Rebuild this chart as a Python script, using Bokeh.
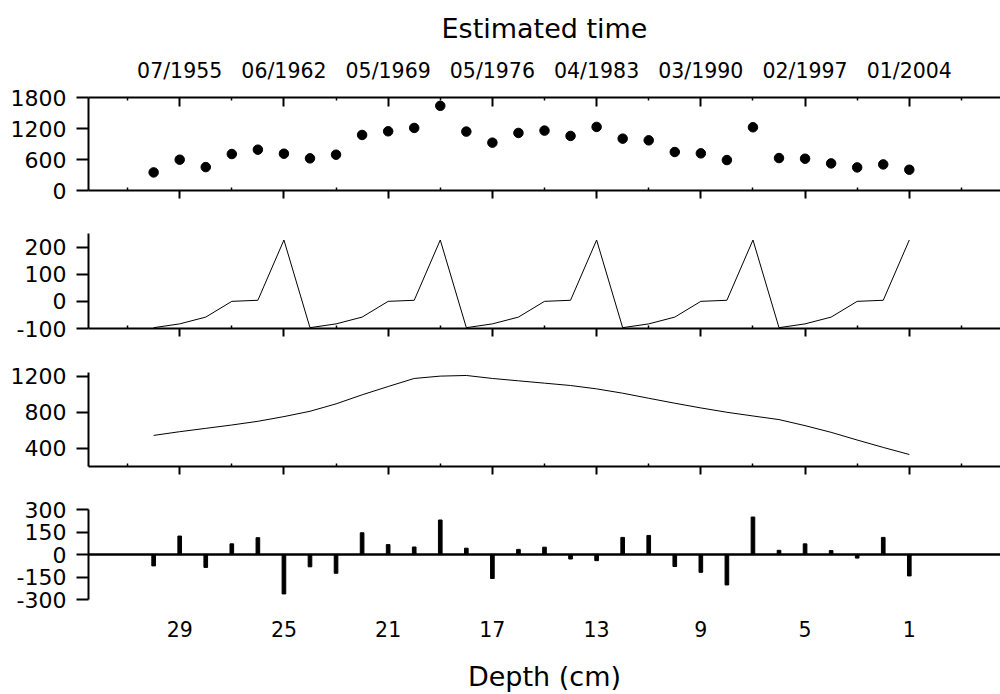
from bokeh.plotting import figure
from bokeh.models import Range1d, FixedTicker, LinearAxis, CustomLabelingPolicy
from bokeh.layouts import column
from bokeh.embed import file_html
from bokeh.resources import INLINE

# ---------------- data ----------------
depth = [30, 29, 28, 27, 26, 25, 24, 23, 22, 21, 20, 19, 18, 17, 16,
         15, 14, 13, 12, 11, 10, 9, 8, 7, 6, 5, 4, 3, 2, 1]
observed = [350, 596, 453, 706, 790, 712, 622, 693, 1075, 1146, 1211, 1639, 1140, 926, 1114,
            1159, 1056, 1231, 1004, 971, 745, 719, 589, 1224, 628, 615, 525, 447, 505, 402]
seasonal = [-97, -83, -58, 0, 4, 226, -97, -83, -58, 0, 4, 226, -97, -83, -58,
            0, 4, 226, -97, -83, -58, 0, 4, 226, -97, -83, -58, 0, 4, 226]
trend = [544, 585, 622, 659, 700, 752, 811, 893, 993, 1085, 1174, 1200, 1207, 1174, 1148,
         1122, 1096, 1059, 1011, 955, 900, 848, 800, 759, 719, 652, 578, 493, 411, 333]
residual = [-76, 123, -86, 71, 112, -263, -82, -125, 145, 66, 50, 230, 42, -160, 34,
            49, -30, -41, 114, 127, -80, -119, -203, 250, 28, 71, 26, -24, 114, -143]
zero_level = [0]

depth_ticks = [29, 25, 21, 17, 13, 9, 5, 1]
depth_minor = [31, 27, 23, 19, 15, 11, 7, 3, -1]
date_labels = ["07/1955", "06/1962", "05/1969", "05/1976",
               "04/1983", "03/1990", "02/1997", "01/2004"]

yticks_obs = [0, 600, 1200, 1800]
yticks_seas = [-100, 0, 100, 200]
yticks_trend = [400, 800, 1200]
yticks_res = [-300, -150, 0, 150, 300]

FONT = "DejaVu Sans"
W = 1000
xr = Range1d(32.5, -2.5)

HIDE_JS = """
try {
  for (const i of Array.from(indices)) { indices.unset(i) }
} catch (e) {}
return indices
"""


def style(ax, size="22px"):
    ax.axis_line_color = "black"
    ax.axis_line_width = 2
    ax.major_tick_line_color = "black"
    ax.major_tick_line_width = 2
    ax.minor_tick_line_color = "black"
    ax.minor_tick_line_width = 1.5
    ax.major_label_text_font = FONT
    ax.major_label_text_font_size = size
    ax.major_label_text_color = "black"
    ax.axis_label_text_font = FONT
    ax.axis_label_text_font_style = "normal"
    ax.axis_label_text_color = "black"
    ax.axis_label_text_font_size = "27px"


def hide_labels(ax):
    ax.major_label_text_font_size = "0px"
    ax.major_label_policy = CustomLabelingPolicy(code=HIDE_JS)


def make_fig(height, top, bottom, yr, yticks, bottom_axis=True):
    p = figure(width=W, height=height, x_range=xr, y_range=Range1d(*yr),
               output_backend="svg", toolbar_location=None,
               x_axis_location=None, y_axis_location=None,
               min_border_left=88, min_border_right=0,
               min_border_top=top, min_border_bottom=bottom)
    p.outline_line_color = None
    p.grid.visible = False
    p.background_fill_color = "white"
    p.border_fill_color = "white"
    ly = LinearAxis(ticker=FixedTicker(ticks=yticks, minor_ticks=[]),
                    major_tick_out=12, major_tick_in=0,
                    minor_tick_out=0, minor_tick_in=0, major_label_standoff=10,
                    major_label_overrides={t: str(t) for t in yticks if t < 0})
    style(ly)
    p.add_layout(ly, "left")
    if bottom_axis:
        bx = LinearAxis(ticker=FixedTicker(ticks=depth_ticks, minor_ticks=depth_minor),
                        major_tick_out=8, major_tick_in=0,
                        minor_tick_out=0, minor_tick_in=3,
                        major_label_standoff=0)
        style(bx)
        hide_labels(bx)
        p.add_layout(bx, "below")
    return p


# Panel 1: observed
p1 = make_fig(212, 97, 22, (0, 1800), yticks_obs)
tx = LinearAxis(ticker=FixedTicker(ticks=depth_ticks, minor_ticks=depth_minor),
                major_tick_out=0, major_tick_in=9, minor_tick_out=0, minor_tick_in=3,
                major_label_standoff=15, axis_label="Estimated time", axis_label_standoff=12,
                major_label_overrides={t: lab for t, lab in zip(depth_ticks, date_labels)})
style(tx, "20.5px")
p1.add_layout(tx, "above")
p1.scatter(depth, observed, size=9.5, color="black")

# Panel 2: seasonal
p2 = make_fig(138, 21, 22, (-100, 250), yticks_seas)
p2.line(depth, seasonal, line_color="black", line_width=1)

# Panel 3: trend
p3 = make_fig(138, 22, 22, (200, 1240), yticks_trend)
p3.line(depth, trend, line_color="black", line_width=1)

# Panel 4: residual
p4 = make_fig(206, 21, 93, (-300, 300), yticks_res, bottom_axis=False)
p4.hspan(y=zero_level, line_color="#000000", line_width=2.5, level="overlay")
lx = LinearAxis(ticker=FixedTicker(ticks=depth_ticks, minor_ticks=[]),
                major_tick_out=0, major_tick_in=0, minor_tick_out=0, minor_tick_in=0,
                major_label_standoff=21, axis_label="Depth (cm)", axis_label_standoff=21)
style(lx, "20.5px")
lx.axis_line_color = None
lx.major_tick_line_color = None
lx.minor_tick_line_color = None
p4.add_layout(lx, "below")
p4.vbar(x=depth, top=residual, bottom=0, width=0.14, color="black")

layout = column(p1, p2, p3, p4, spacing=0)
open("out.html", "w").write(file_html(layout, INLINE))
